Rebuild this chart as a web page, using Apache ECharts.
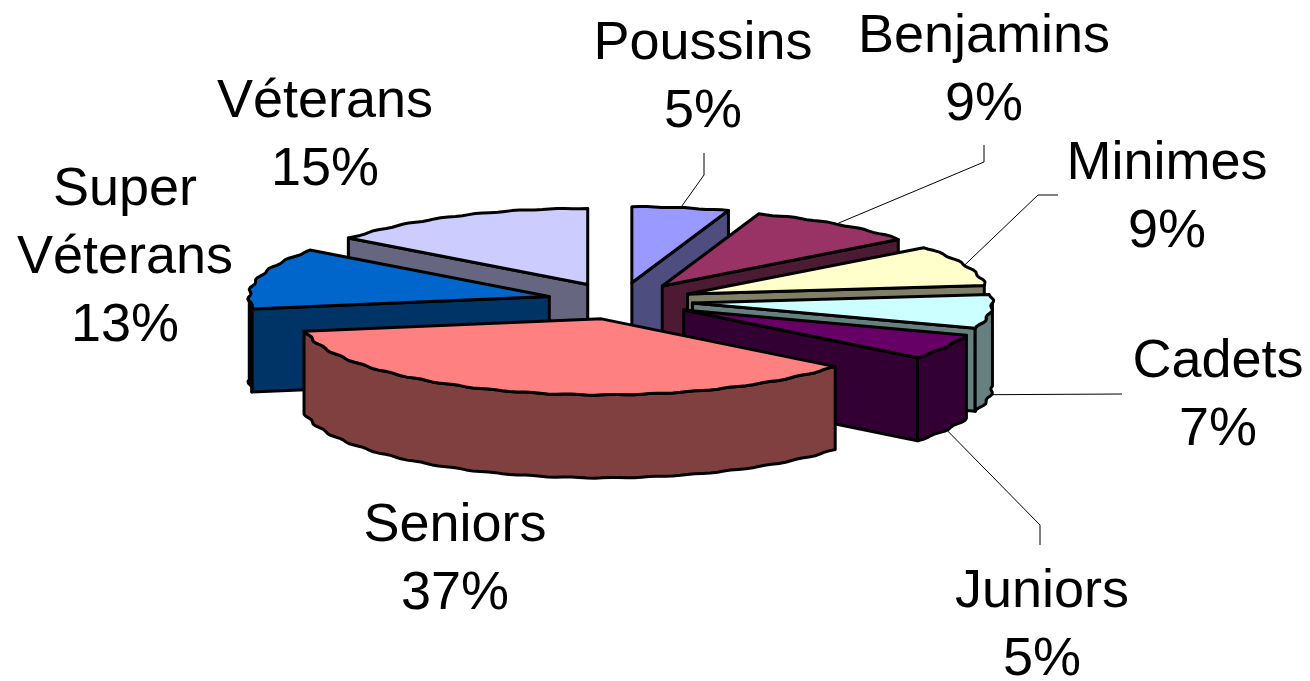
<!DOCTYPE html>
<html lang="fr">
<head>
    <meta charset="UTF-8"/>
    <title>Licenciés par catégorie</title>
    <script src="https://cdn.jsdelivr.net/npm/echarts@6/dist/echarts.min.js"></script>
    <style>
        * { margin: 0; padding: 0; }
        html, body { background: #fff; overflow: hidden; }
        #chart { width: 1310px; height: 681px; }
    </style>
</head>
<body>
<div id="chart"></div>
<script>
    const categories = ['Poussins', 'Benjamins', 'Minimes', 'Cadets', 'Juniors', 'Seniors', 'Super Véterans', 'Véterans'];
    const shares = [5.2, 9.3, 8.7, 7.2, 5.4, 36.6, 13.0, 14.6];
    const topColors = ['#9999FF', '#993366', '#FFFFCC', '#CCFFFF', '#660066', '#FF8080', '#0066CC', '#CCCCFF'];
    const sideColors = ['#4D4D80', '#4D1A33', '#808066', '#668080', '#330033', '#804040', '#003366', '#666680'];

    // label centres and the elbows of their leader lines
    const labelCentres = [[703, 78], [984, 71], [1167, 198], [1218, 396], [1042, 626], [455, 560], [125, 258], [325, 136]];
    const labelElbows = [[[704, 153], [704, 175]], [[984, 145], [984, 162]], [[1058, 195], [1038, 195]], [[1122, 394]], [[1040, 545], [1040, 525]], null, null, null];

    const pie = { cx: 620, cy: 301, rx: 300, ry: 76, depth: 83, explode: 0.243 };
    const total = shares.reduce((a, b) => a + b, 0);

    function rad(deg) { return deg * Math.PI / 180; }

    // point on the ellipse, 0 deg at 12 o'clock and going clockwise
    function onRim(apex, deg) {
        const wobble = 1 + 0.005 * Math.sin(rad(deg) * 46);
        return [apex[0] + pie.rx * wobble * Math.sin(rad(deg)), apex[1] - pie.ry * wobble * Math.cos(rad(deg))];
    }

    function rimPoints(apex, from, to) {
        const pts = [];
        const n = Math.max(2, Math.ceil((to - from) / 1.5));
        for (let i = 0; i <= n; i++) pts.push(onRim(apex, from + (to - from) * i / n));
        return pts;
    }

    function drop(p) { return [p[0], p[1] + pie.depth]; }

    function wall(pts, fill, z2) {
        const shape = pts.concat(pts.slice().reverse().map(drop));
        return {
            type: 'polygon', z2: z2,
            shape: { points: shape },
            style: { fill: fill, stroke: '#000', lineWidth: 3, lineJoin: 'round' }
        };
    }

    function renderSlice(params, api) {
        const i = params.dataIndex;
        const from = shares.slice(0, i).reduce((a, b) => a + b, 0) / total * 360;
        const to = from + api.value(0) / total * 360;
        const mid = (from + to) / 2;
        const apex = [
            pie.cx + pie.explode * pie.rx * Math.sin(rad(mid)),
            pie.cy - pie.explode * pie.ry * Math.cos(rad(mid))
        ];
        const rim = rimPoints(apex, from, to);
        const first = rim[0];
        const last = rim[rim.length - 1];
        const midRim = onRim(apex, mid);
        const base = Math.round((apex[1] + midRim[1]) / 2) * 10;
        const children = [];

        // only the faces turned towards the viewer
        if (first[0] < apex[0] - 1) children.push(wall([apex, first], sideColors[i], base));
        if (last[0] > apex[0] + 1) children.push(wall([last, apex], sideColors[i], base));
        const frontFrom = Math.max(from, 90);
        const frontTo = Math.min(to, 270);
        if (frontTo > frontFrom) children.push(wall(rimPoints(apex, frontFrom, frontTo), sideColors[i], base + 1));

        children.push({
            type: 'polygon', z2: base + 2,
            shape: { points: [apex].concat(rim) },
            style: { fill: topColors[i], stroke: '#000', lineWidth: 3, lineJoin: 'round' }
        });

        const elbows = labelElbows[i];
        if (elbows) {
            const facingUs = mid > 90 && mid < 270;
            const end = facingUs ? drop(midRim) : midRim;
            children.push({
                type: 'polyline', z2: 1,
                shape: { points: elbows.concat([end]) },
                style: { fill: null, stroke: '#000', lineWidth: 1 }
            });
        }

        const name = categories[i].replace(' ', '\n');
        children.push({
            type: 'text', z2: 9000,
            style: {
                x: labelCentres[i][0],
                y: labelCentres[i][1],
                text: name + '\n' + Math.round(api.value(0)) + '%',
                fill: '#000',
                fontFamily: '"Liberation Sans", Arial, sans-serif',
                fontSize: 54,
                lineHeight: 68,
                align: 'center',
                verticalAlign: 'middle'
            }
        });
        return { type: 'group', children: children };
    }

    const chart = echarts.init(document.getElementById('chart'));
    chart.setOption({
        animation: false,
        backgroundColor: '#fff',
        series: [{
            type: 'custom',
            coordinateSystem: 'none',
            renderItem: renderSlice,
            data: shares.map((v, i) => ({ name: categories[i], value: [v] }))
        }]
    });
</script>
</body>
</html>
